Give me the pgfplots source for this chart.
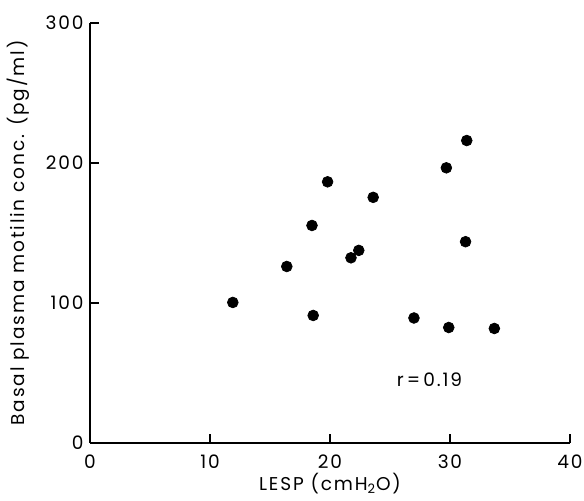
\documentclass[border=0pt]{standalone}
\usepackage{fontspec}
\setmainfont{Poppins}[LetterSpace=10]
\usepackage{pgfplots}
\pgfplotsset{compat=1.18}
\begin{document}
\begin{tikzpicture}
\begin{axis}[
    name=ax,
    width=259pt, height=226.6pt,
    scale only axis,
    axis lines=left,
    axis line style={-, line width=0.9pt},
    xmin=0, xmax=40, ymin=0, ymax=300,
    xtick={0,10,20,30,40}, ytick={0,100,200,300},
    tick align=inside,
    major tick length=5pt,
    tick style={line width=0.8pt, black},
    /pgf/number format/assume math mode=true,
    tick label style={font=\fontsize{10}{12}\selectfont},
    xticklabel style={yshift=-3pt},
    xlabel={LESP (cmH\textsubscript{2}O)},
    ylabel={Basal plasma motilin conc. (pg/ml)},
    label style={font=\fontsize{10}{12}\selectfont},
    xlabel style={yshift=4.5pt},
    ylabel style={yshift=2pt},
    clip=false,
]
\addplot[only marks, mark=*, mark size=2.9pt, black] coordinates {
(31.4,216) (29.7,196.5) (19.8,186.5) (23.6,175.4) (18.5,155.3)
(31.3,143.7) (22.4,137.5) (21.75,132.2) (16.4,126) (11.9,100.3)
(18.6,91) (27.0,89.2) (29.9,82.4) (33.7,81.7)
};
\node[font=\fontsize{10}{12}\selectfont] at (axis cs:28.3,45) {r\,=\,0.19};
\end{axis}
\pgfresetboundingbox
\path[use as bounding box] ([shift={(-48.6pt,-31.3pt)}]ax.south west)
    rectangle ([shift={(7.6pt,12.4pt)}]ax.north east);
\end{tikzpicture}
\end{document}
